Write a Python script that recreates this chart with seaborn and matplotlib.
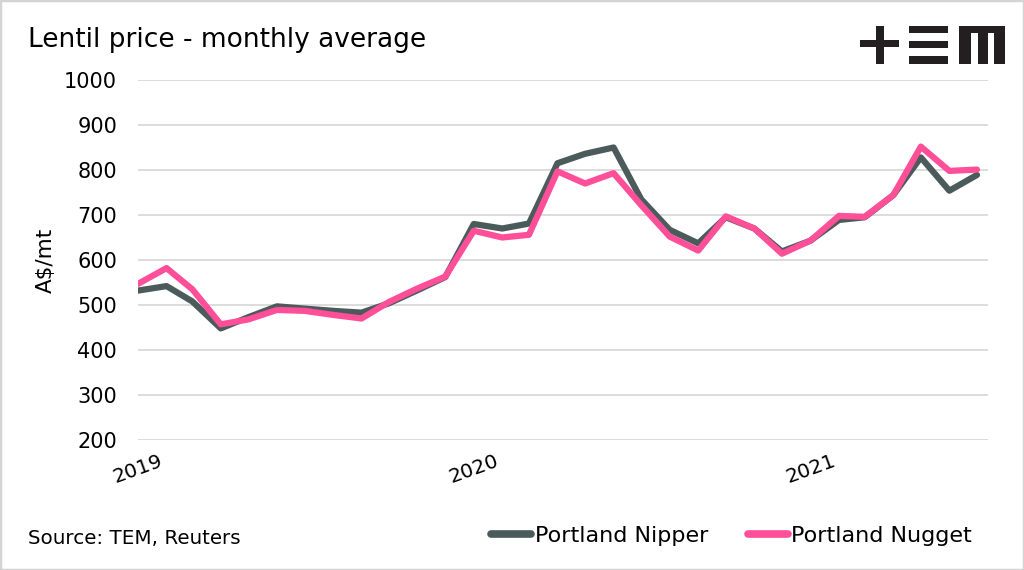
import pandas as pd
import matplotlib
matplotlib.use("Agg")
from matplotlib import pyplot as plt
from matplotlib.patches import Rectangle
import seaborn as sns

# monthly averages, Jan 2019 - Jul 2021
months = pd.date_range("2019-01-01", periods=31, freq="MS")
nipper = [532, 542, 508, 448, 473, 497, 492, 487, 483, 504,
          533, 562, 680, 670, 681, 815, 836, 850, 735, 667,
          637, 695, 670, 619, 643, 689, 695, 744, 828, 754,
          789]
nugget = [547, 582, 535, 457, 468, 489, 487, 478, 470, 507,
          537, 563, 665, 650, 656, 797, 770, 793, 722, 652,
          621, 697, 670, 614, 643, 698, 696, 744, 852, 798,
          801]
series_names = ["Portland Nipper", "Portland Nugget"]
series_colors = ["#4b5b5b", "#ff4f98"]
year_ticks = ["2019", "2020", "2021"]
y_ticks = [200, 300, 400, 500, 600, 700, 800, 900, 1000]

df = pd.DataFrame({"Month": months, series_names[0]: nipper, series_names[1]: nugget})
long = df.melt(id_vars="Month", var_name="Series", value_name="Price")

sns.set_style("white")
plt.rcParams["font.family"] = ["DejaVu Sans"]
plt.rcParams["text.color"] = "black"
plt.rcParams["xtick.color"] = "black"
plt.rcParams["ytick.color"] = "black"
plt.rcParams["axes.labelcolor"] = "black"

W, H = 1024, 570
fig = plt.figure(figsize=(W / 100, H / 100), dpi=100)
ax = fig.add_axes([138 / W, 130 / H, (988 - 138) / W, (440 - 80) / H])

sns.lineplot(data=long, x="Month", y="Price", hue="Series", hue_order=series_names,
             palette=series_colors, linewidth=4.5, ax=ax, legend=False,
             solid_joinstyle="round")

ax.set_ylim(200, 1000)
ax.set_yticks(y_ticks)
ax.set_xlim(months[0], months[-1] + pd.Timedelta(days=12))
ax.set_xticks([pd.Timestamp(y + "-01-01") for y in year_ticks])
ax.set_xticklabels(year_ticks, rotation=20, ha="center", fontsize=14.5)
ax.tick_params(axis="y", labelsize=15, length=0, pad=15)
ax.tick_params(axis="x", length=0, pad=8)
ax.grid(axis="y", color="#d9d9d9", linewidth=1.3)
ax.set_axisbelow(True)
for s in ax.spines.values():
    s.set_visible(False)
ax.set_xlabel("")
ax.set_ylabel("A$/mt", fontsize=15.5, labelpad=6)

fig.text(28 / W, 1 - 40 / H, "Lentil price - monthly average", fontsize=19,
         va="center", ha="left")
fig.text(28 / W, 1 - 538 / H, "Source: TEM, Reuters", fontsize=14.3,
         va="center", ha="left")

handles = [plt.Line2D([], [], color=c, linewidth=5.5) for c in series_colors]
fig.legend(handles, series_names, loc="center right", ncol=2, frameon=False,
           bbox_to_anchor=(972 / W, 1 - 536 / H), fontsize=16,
           handlelength=1.8, handletextpad=0.15, columnspacing=1.8,
           borderaxespad=0, borderpad=0)

# logo "+EM" drawn as blocks, pixel boxes (x0, y0, x1, y1) from top-left
logo = [(860, 40, 899, 47), (876, 26, 884, 64),
        (909, 26, 948, 33), (909, 41, 948, 48), (909, 56, 948, 64),
        (959, 26, 1005, 33), (959, 26, 971, 64), (978, 26, 988, 64), (994, 26, 1005, 64)]
for x0, y0, x1, y1 in logo:
    fig.patches.append(Rectangle((x0 / W, 1 - y1 / H), (x1 - x0) / W, (y1 - y0) / H,
                                 transform=fig.transFigure, color="#231f20", lw=0))

fig.patches.append(Rectangle((0, 0), 1, 1, transform=fig.transFigure, fill=False,
                             edgecolor="#d4d4d4", lw=2.5))

fig.savefig("out.png", dpi=100)
